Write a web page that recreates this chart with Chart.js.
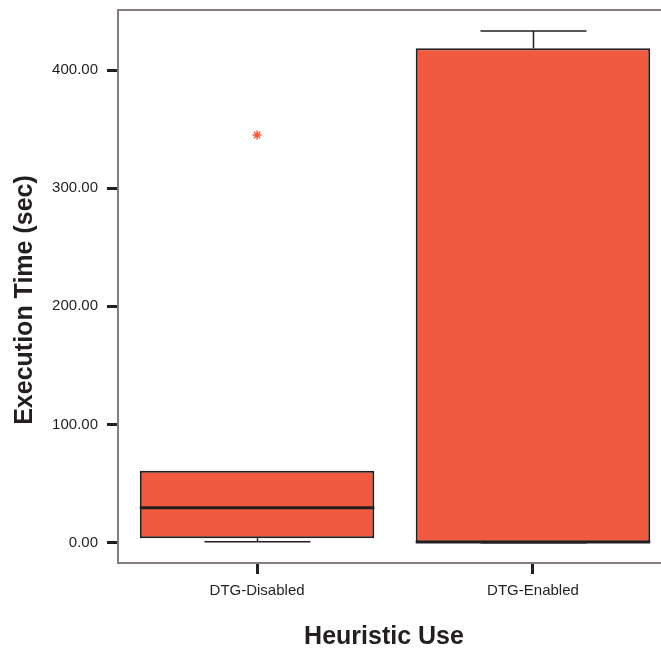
<!DOCTYPE html>
<html>
<head>
<meta charset="utf-8">
<script src="https://cdn.jsdelivr.net/npm/chart.js@4.4.1/dist/chart.umd.min.js"></script>
<style>
html,body{margin:0;padding:0;background:#fff;overflow:hidden;}
</style>
</head>
<body>
<canvas id="box" width="661" height="650"></canvas>
<script>
// box plot values (sec)
var categories = ['DTG-Disabled', 'DTG-Enabled'];
var whiskerLow = [0.85, 0.0];
var q1 = [3.7, 0.2];
var medians = [29.6, 0.6];
var q3 = [60.9, 418.4];
var whiskerHigh = [60.9, 433.0];
var outlierCat = [0];
var outlierVal = [345.0];
var yTicks = [0, 100, 200, 300, 400];

var ink = '#231f20', frame = '#857d7b', fill = '#f05a40';
var font = '"Liberation Sans", Arial, sans-serif';

var boxData = categories.map(function(c, i){ return {x: i, y: [q1[i], q3[i]]}; });
var outData = outlierCat.map(function(c, i){ return {x: c, y: outlierVal[i]}; });

// whiskers, medians, top frame and axis titles
var boxExtras = {
	id: 'boxExtras',
	afterDatasetsDraw: function(chart){
		var ctx = chart.ctx, x = chart.scales.x, y = chart.scales.y, area = chart.chartArea;
		var bars = chart.getDatasetMeta(0).data;
		ctx.save();
		ctx.strokeStyle = frame;
		ctx.lineWidth = 2;
		ctx.beginPath();
		ctx.moveTo(area.left, area.top);
		ctx.lineTo(area.right, area.top);
		ctx.stroke();

		ctx.strokeStyle = ink;
		for(var i=0;i<categories.length;++i){
			var cx = Math.round(x.getPixelForValue(i)) + 0.5;
			var half = 53;
			ctx.lineWidth = 1.5;
			ctx.beginPath();
			if(whiskerHigh[i] > q3[i]){
				ctx.moveTo(cx, y.getPixelForValue(q3[i]));
				ctx.lineTo(cx, y.getPixelForValue(whiskerHigh[i]));
				ctx.moveTo(cx - half, y.getPixelForValue(whiskerHigh[i]));
				ctx.lineTo(cx + half, y.getPixelForValue(whiskerHigh[i]));
			}
			if(whiskerLow[i] < q1[i]){
				ctx.moveTo(cx, y.getPixelForValue(q1[i]));
				ctx.lineTo(cx, y.getPixelForValue(whiskerLow[i]));
				ctx.moveTo(cx - half, y.getPixelForValue(whiskerLow[i]));
				ctx.lineTo(cx + half, y.getPixelForValue(whiskerLow[i]));
			}
			ctx.stroke();
			// median
			var b = bars[i];
			ctx.lineWidth = 3;
			ctx.beginPath();
			ctx.moveTo(b.x - b.width/2, y.getPixelForValue(medians[i]));
			ctx.lineTo(b.x + b.width/2, y.getPixelForValue(medians[i]));
			ctx.stroke();
		}
		ctx.restore();
	},
	afterDraw: function(chart){
		var ctx = chart.ctx;
		ctx.save();
		ctx.fillStyle = ink;
		ctx.font = 'bold 25px ' + font;
		ctx.textAlign = 'center';
		ctx.textBaseline = 'middle';
		ctx.fillText('Heuristic Use', 384, 637);
		ctx.translate(25, 300);
		ctx.rotate(-Math.PI/2);
		ctx.fillText('Execution Time (sec)', 0, 0);
		ctx.restore();
	}
};

new Chart(document.getElementById('box').getContext('2d'), {
	type: 'bar',
	data: {
		datasets: [{
			label: 'box',
			data: boxData,
			backgroundColor: fill,
			borderColor: ink,
			borderWidth: 2,
			borderSkipped: false,
			categoryPercentage: 1,
			barPercentage: 0.85,
			order: 2
		},{
			type: 'scatter',
			label: 'outliers',
			data: outData,
			pointStyle: 'star',
			radius: 4.5,
			borderColor: fill,
			backgroundColor: fill,
			borderWidth: 1.5,
			order: 1
		}]
	},
	options: {
		responsive: false,
		animation: false,
		devicePixelRatio: 1,
		layout: {autoPadding: false, padding: {top: 10, right: 0, left: 0, bottom: 0}},
		plugins: {legend: {display: false}, tooltip: {enabled: false}},
		scales: {
			x: {
				type: 'linear',
				min: -0.504,
				max: 1.464,
				offset: false,
				afterBuildTicks: function(s){ s.ticks = categories.map(function(c, i){ return {value: i}; }); },
				afterFit: function(s){ s.height = 87; s.paddingLeft = 0; s.paddingRight = 0; },
				ticks: {
					callback: function(v){ return categories[v]; },
					font: {family: font, size: 15},
					color: ink,
					padding: 8,
					maxRotation: 0,
					autoSkip: false
				},
				grid: {drawOnChartArea: false, offset: false, tickLength: 11, tickWidth: 3, tickColor: ink},
				border: {color: frame, width: 2}
			},
			y: {
				min: -17.2,
				max: 450.8,
				afterBuildTicks: function(s){ s.ticks = yTicks.map(function(v){ return {value: v}; }); },
				afterFit: function(s){ s.width = 118; s.paddingTop = 0; s.paddingBottom = 0; },
				ticks: {
					callback: function(v){ return v.toFixed(2); },
					font: {family: font, size: 15},
					color: ink,
					padding: 9
				},
				grid: {drawOnChartArea: false, tickLength: 11, tickWidth: 3, tickColor: ink},
				border: {color: frame, width: 2}
			}
		}
	},
	plugins: [boxExtras]
});
</script>
</body>
</html>
